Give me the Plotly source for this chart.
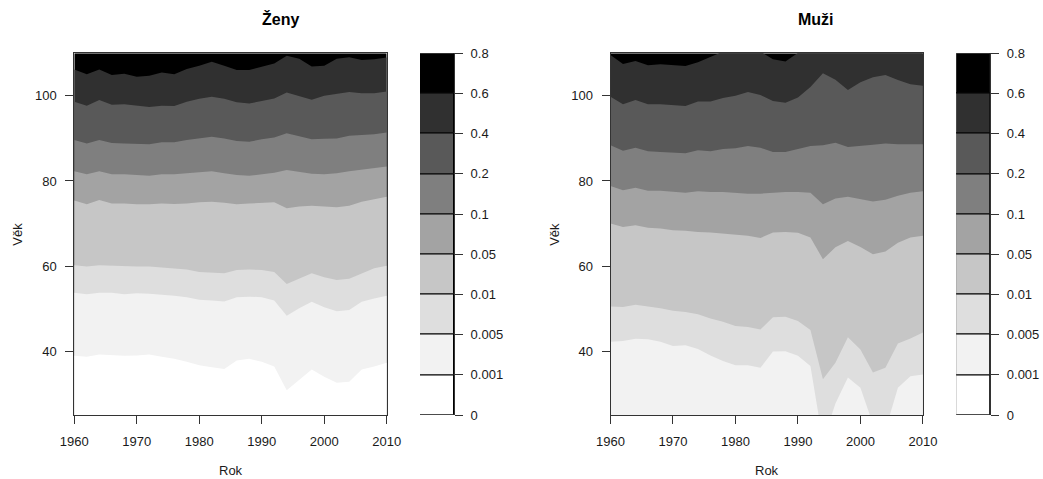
import plotly.graph_objects as go

# ---------------------------------------------------------------------------
# Data: age (years) at which each death-probability level is reached,
# by calendar year, for women (Ženy) and men (Muži).
# ---------------------------------------------------------------------------
years = [1960, 1962, 1964, 1966, 1968, 1970, 1972, 1974, 1976, 1978,
         1980, 1982, 1984, 1986, 1988, 1990, 1992, 1994, 1996, 1998,
         2000, 2002, 2004, 2006, 2008, 2010]

levels = [0, 0.001, 0.005, 0.01, 0.05, 0.1, 0.2, 0.4, 0.6, 0.8]
level_labels = ["0", "0.001", "0.005", "0.01", "0.05", "0.1", "0.2", "0.4", "0.6", "0.8"]

# fill colour of each interval [levels[i], levels[i+1])
band_colors = ["#FFFFFF", "#F2F2F2", "#DEDEDE", "#C6C6C6", "#A3A3A3",
               "#7F7F7F", "#595959", "#303030", "#000000"]

# --- Ženy ---
zeny_0001 = [38.9, 38.7, 39.2, 39.1, 38.9, 39.0, 39.2, 38.7, 38.2, 37.5,
             36.7, 36.2, 35.8, 37.8, 38.2, 37.5, 36.4, 30.8, 33.2, 35.7,
             34.0, 32.6, 32.8, 35.7, 36.4, 37.3]
zeny_0005 = [53.7, 53.4, 53.7, 53.7, 53.4, 53.6, 53.5, 53.3, 53.0, 52.7,
             52.1, 51.9, 51.7, 52.7, 52.8, 52.7, 51.9, 48.3, 50.1, 51.6,
             50.3, 49.4, 49.7, 51.6, 52.4, 53.0]
zeny_001 = [60.2, 59.9, 60.2, 60.1, 59.9, 59.9, 59.9, 59.7, 59.4, 59.2,
            58.6, 58.5, 58.3, 59.1, 59.2, 59.1, 58.6, 55.8, 57.1, 58.3,
            57.4, 56.7, 57.0, 58.3, 59.5, 60.1]
zeny_005 = [75.4, 74.5, 75.5, 74.7, 74.7, 74.5, 74.5, 74.7, 74.6, 74.7,
            75.0, 75.1, 74.9, 74.5, 74.7, 74.9, 75.0, 73.6, 74.0, 74.2,
            74.0, 73.8, 74.2, 75.1, 75.7, 76.3]
zeny_01 = [82.3, 81.6, 82.3, 81.6, 81.6, 81.4, 81.2, 81.6, 81.6, 81.8,
           82.0, 82.3, 81.8, 81.4, 81.2, 81.6, 81.9, 82.6, 82.2, 81.7,
           81.6, 81.8, 82.3, 82.7, 83.0, 83.4]
zeny_02 = [89.6, 88.8, 89.6, 88.9, 88.8, 88.7, 88.6, 89.1, 89.1, 89.6,
           90.0, 90.4, 90.0, 89.4, 89.2, 89.8, 90.2, 91.2, 90.5, 89.8,
           89.9, 90.0, 90.6, 90.8, 91.0, 91.4]
zeny_04 = [98.6, 97.7, 99.0, 97.9, 98.0, 97.7, 97.4, 97.7, 97.6, 98.6,
           99.3, 99.8, 99.3, 98.5, 98.2, 98.8, 99.4, 100.8, 100.0, 99.1,
           100.0, 100.4, 100.9, 100.6, 100.6, 101.0]
zeny_06 = [106.2, 105.1, 106.2, 104.9, 105.2, 104.5, 104.7, 105.5, 105.1, 106.3,
           107.1, 108.0, 107.1, 106.1, 106.1, 106.9, 107.6, 109.4, 108.7, 106.9,
           107.1, 108.7, 109.1, 108.4, 108.6, 109.0]

# --- Muži ---
muzi_0005 = [42.2, 42.4, 42.9, 42.8, 42.2, 41.2, 41.4, 40.5, 39.0, 37.7,
             36.7, 36.7, 36.1, 39.9, 40.0, 38.9, 36.5, 18.8, 27.7, 33.8,
             31.4, 22.9, 21.5, 31.4, 34.1, 34.5]
muzi_001 = [50.5, 50.4, 50.9, 50.5, 50.1, 49.5, 49.2, 48.7, 47.7, 46.9,
            45.9, 45.7, 45.1, 48.0, 48.1, 47.1, 45.0, 33.4, 37.3, 43.3,
            40.4, 35.0, 36.1, 41.8, 43.0, 44.4]
muzi_005 = [70.0, 69.2, 69.6, 69.0, 68.8, 68.4, 68.3, 68.0, 67.9, 67.6,
            67.3, 67.1, 66.6, 67.9, 68.0, 67.8, 66.7, 61.6, 64.4, 65.9,
            64.5, 62.8, 63.4, 65.5, 66.7, 67.1]
muzi_01 = [78.8, 77.8, 78.4, 77.7, 77.7, 77.4, 77.2, 77.6, 77.4, 77.4,
           77.2, 77.0, 77.0, 77.2, 77.4, 77.4, 77.2, 74.5, 75.9, 76.3,
           75.7, 75.2, 75.6, 76.5, 77.2, 77.6]
muzi_02 = [88.4, 87.1, 87.8, 87.0, 86.8, 86.7, 86.5, 87.2, 87.0, 87.5,
           87.7, 88.2, 87.8, 86.8, 86.8, 87.5, 88.2, 88.4, 89.0, 88.0,
           88.2, 88.5, 88.8, 88.6, 88.6, 88.6]
muzi_04 = [99.8, 98.0, 99.0, 98.0, 98.0, 97.8, 97.6, 98.7, 98.7, 99.5,
           100.0, 100.9, 100.2, 98.8, 98.4, 99.6, 102.1, 105.3, 103.8, 101.4,
           103.2, 104.4, 104.9, 103.7, 102.7, 102.4]
muzi_06 = [109.6, 107.5, 108.2, 107.2, 107.4, 107.2, 107.0, 107.9, 109.2, 110.4,
           111.2, 111.5, 110.4, 108.6, 108.1, 110.1, 111.2, 111.5, 111.5, 111.5,
           111.5, 111.5, 111.5, 111.5, 111.5, 111.5]

AGE_MIN, AGE_MAX = 25, 110
YEAR_MIN, YEAR_MAX = 1960, 2010

panels = [
    {"title": "Ženy",
     "bounds": {0.001: zeny_0001, 0.005: zeny_0005, 0.01: zeny_001, 0.05: zeny_005,
                0.1: zeny_01, 0.2: zeny_02, 0.4: zeny_04, 0.6: zeny_06}},
    {"title": "Muži",
     "bounds": {0.005: muzi_0005, 0.01: muzi_001, 0.05: muzi_005,
                0.1: muzi_01, 0.2: muzi_02, 0.4: muzi_04, 0.6: muzi_06}},
]

# ---------------------------------------------------------------------------
# Page geometry (pixels)
# ---------------------------------------------------------------------------
W, H = 1043, 479
PLOT_TOP, PLOT_BOTTOM = 53.3, 415.0
PANEL_SHIFT = 536.2
MAIN_X = (74.3, 386.7)
KEY_X = (420.0, 454.0)
TITLE_X, TITLE_Y = 280.0, 19.0
XLAB_X, XLAB_Y = 231.0, 470.0
YLAB_X = 17.5

FONT = "Liberation Sans, Arial, Helvetica, sans-serif"
INK = "#1a1a1a"
FRAME = "#333333"


def px_x(v):
    return v / W


def px_y(v):
    return 1 - v / H


fig = go.Figure()
layout = {}
annotations = []

y_domain = [px_y(PLOT_BOTTOM), px_y(PLOT_TOP)]

for i, panel in enumerate(panels):
    shift = i * PANEL_SHIFT
    main_n = 2 * i + 1
    key_n = 2 * i + 2
    main_x = "x" if main_n == 1 else f"x{main_n}"
    main_y = "y" if main_n == 1 else f"y{main_n}"
    key_x, key_y = f"x{key_n}", f"y{key_n}"

    # topmost band: everything above the highest boundary
    fig.add_trace(go.Scatter(
        x=years, y=[AGE_MAX] * len(years), mode="lines", line=dict(width=0),
        fill="tozeroy", fillcolor=band_colors[-1], hoverinfo="skip",
        showlegend=False, xaxis=main_x, yaxis=main_y))

    # each boundary fills downward with the colour of the band below it;
    # drawn from the highest level to the lowest so lower bands overlay
    for lev in sorted(panel["bounds"], reverse=True):
        k = levels.index(lev)
        fig.add_trace(go.Scatter(
            x=years, y=panel["bounds"][lev], mode="lines", line=dict(width=0),
            fill="tozeroy", fillcolor=band_colors[k - 1], hoverinfo="skip",
            showlegend=False, xaxis=main_x, yaxis=main_y))

    # colour key: one stacked rectangle per interval
    n_bands = len(band_colors)
    fig.add_trace(go.Bar(
        x=[0] * n_bands, y=[1] * n_bands, base=list(range(n_bands)),
        width=1, marker=dict(color=band_colors, line=dict(color="#000000", width=1)),
        hoverinfo="skip", showlegend=False, xaxis=key_x, yaxis=key_y))

    axis_common = dict(
        showgrid=False, zeroline=False, ticks="outside", ticklen=8,
        tickwidth=1, tickcolor=FRAME, showline=True, linecolor=FRAME,
        linewidth=1, mirror=True, automargin=False,
        tickfont=dict(family=FONT, size=13, color=INK),
    )

    layout["xaxis" if main_n == 1 else f"xaxis{main_n}"] = dict(
        axis_common,
        domain=[px_x(MAIN_X[0] + shift), px_x(MAIN_X[1] + shift)],
        range=[YEAR_MIN, YEAR_MAX],
        tickvals=list(range(YEAR_MIN, YEAR_MAX + 1, 10)),
        anchor=main_y, ticklabelstandoff=6,
    )
    layout["yaxis" if main_n == 1 else f"yaxis{main_n}"] = dict(
        axis_common,
        domain=y_domain,
        range=[AGE_MIN, AGE_MAX],
        tickvals=[40, 60, 80, 100],
        anchor=main_x, ticklabelstandoff=6,
    )
    layout[f"xaxis{key_n}"] = dict(
        domain=[px_x(KEY_X[0] + shift), px_x(KEY_X[1] + shift)],
        range=[-0.5, 0.5], showgrid=False, zeroline=False, automargin=False,
        showticklabels=False, ticks="", showline=False, anchor=key_y,
    )
    layout[f"yaxis{key_n}"] = dict(
        domain=y_domain, range=[0, n_bands], side="right",
        tickvals=list(range(len(levels))), ticktext=level_labels,
        ticks="outside", ticklen=8, tickwidth=1, tickcolor=FRAME,
        showline=True, linecolor=FRAME, linewidth=1, automargin=False,
        showgrid=False, zeroline=False, anchor=key_x, ticklabelstandoff=5,
        tickfont=dict(family=FONT, size=13, color=INK),
    )

    annotations.append(dict(
        text=panel["title"], x=px_x(TITLE_X + shift), y=px_y(TITLE_Y),
        xref="paper", yref="paper", showarrow=False,
        xanchor="center", yanchor="middle",
        font=dict(family=FONT, size=16, color="#000000", weight="bold")))
    annotations.append(dict(
        text="Rok", x=px_x(XLAB_X + shift), y=px_y(XLAB_Y),
        xref="paper", yref="paper", showarrow=False,
        xanchor="center", yanchor="middle",
        font=dict(family=FONT, size=13, color=INK)))
    annotations.append(dict(
        text="Věk", x=px_x(YLAB_X + shift), y=px_y((PLOT_TOP + PLOT_BOTTOM) / 2),
        xref="paper", yref="paper", showarrow=False, textangle=-90,
        xanchor="center", yanchor="middle",
        font=dict(family=FONT, size=13, color=INK)))

fig.update_layout(
    template="none",
    width=W, height=H,
    margin=dict(l=0, r=0, t=0, b=0, pad=0, autoexpand=False),
    paper_bgcolor="#FFFFFF", plot_bgcolor="#FFFFFF",
    barmode="overlay", bargap=0,
    annotations=annotations,
    **layout,
)

fig.write_html("out.html")
